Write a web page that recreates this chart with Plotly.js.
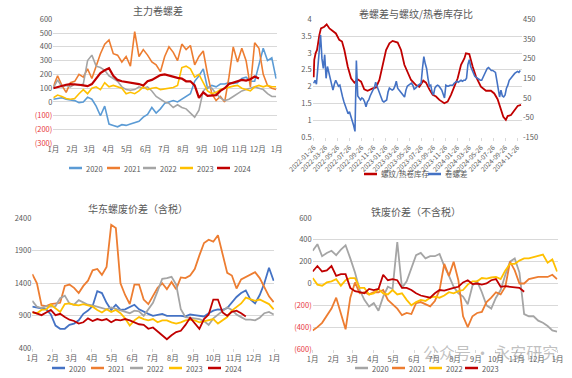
<!DOCTYPE html>
<html><head><meta charset="utf-8">
<script src="https://cdn.plot.ly/plotly-3.0.1.min.js"></script>
<style>html,body{margin:0;padding:0;background:#fff}#chart{width:572px;height:378px}</style>
</head><body><div id="chart"></div>
<script>
// ---------- shared month axis (seasonal charts) ----------
const MONTH_DAYS = [0,31,59,90,120,151,181,212,243,273,304,334,365];
const MONTH_LABELS = ['1月','2月','3月','4月','5月','6月','7月','8月','9月','10月','11月','12月','1月'];

// ---------- chart 1: 主力卷螺差 (weekly values) ----------
const c1_2020 = [20,25,30,20,15, 10,-5,0,35, 20,-30,-100,-30, -160,-170,-180,-165,-170, -160,-150,-140,-110, -90,-40,-80,-50, -10,0,10,0,20, 40,60,150,190, 240,100,120,110, 130,130,140,135,140, 170,180,150,150, 280,390,300,320,170];
const c1_2021 = [110,190,120,70,140, 150,200,180,240, 170,260,350,420, 450,350,340,290,330, 260,510,330,380, 340,290,270,220, 330,400,360,300,420, 380,410,270,330, 370,200,60,10, 40,0,180,400,290, 390,300,110,430, 390,200,120,100,90];
const c1_2022 = [100,160,110,120,110, 130,120,130,300, 340,260,250,230, 190,170,150,110,90, 85,90,110,100, 110,80,40,20, 0,-10,-40,-20,-40, -50,-80,-110,-60, 80,110,100,60, 30,10,20,40,60, 80,90,100,110, 100,90,60,40,40];
const c1_2023 = [30,50,40,25,20, 25,60,90,60, 100,110,90,140, 110,120,110,100,60, 70,60,80,110, 90,100,105,90, 95,100,105,120,250, 260,240,180,200, 140,80,60,70, 90,100,110,115,120, 100,90,80,110, 120,110,120,110,110];
const c1_2024 = [100,110,120,125,130, 130,125,120,115, 130,170,210,230, 245,190,160,150,145, 140,140,130,120, 150,160,175,195, 200,190,185,175,170, 150,150,120,30, 70,45,50,50, 80,100,130,140,150, 160,155,165,185,170];

// ---------- chart 2: 卷螺差与螺纹/热卷库存比 ----------
const c2_ratioDates = ['2022-01-26','2022-01-29','2022-02-05','2022-02-12','2022-02-24','2022-03-04','2022-03-21','2022-04-02','2022-04-16','2022-05-03','2022-05-19','2022-06-05','2022-06-19','2022-07-01','2022-07-18','2022-08-04','2022-08-21','2022-09-07','2022-09-24','2022-10-10','2022-10-27','2022-11-22','2022-12-09','2022-12-26','2023-01-12','2023-01-29','2023-02-15','2023-03-03','2023-03-29','2023-04-15','2023-05-02','2023-05-19','2023-06-05','2023-06-30','2023-07-17','2023-08-06','2023-08-20','2023-09-06','2023-09-23','2023-10-10','2023-10-27','2023-11-21','2023-12-08','2023-12-25','2024-01-11','2024-01-28','2024-02-14','2024-03-02','2024-03-10','2024-03-27','2024-04-13','2024-04-30','2024-05-25','2024-06-20','2024-07-15','2024-08-01','2024-08-18','2024-09-04','2024-09-16','2024-09-29','2024-10-08','2024-10-25','2024-11-11','2024-11-28','2024-12-15'];
const c2_ratio = [2.28,2.8,3.0,3.09,3.54,3.73,3.78,3.85,3.73,3.65,3.58,3.39,3.34,3.09,2.6,2.25,2.12,2.22,2.15,1.92,1.88,1.95,1.98,2.2,2.6,3.09,3.29,3.36,3.31,3.09,2.65,2.4,2.2,2.05,2.0,2.18,2.12,1.92,1.76,1.71,1.61,1.51,1.56,1.76,1.98,2.25,2.65,2.84,2.99,2.97,2.6,2.3,2.0,1.88,1.88,1.8,1.63,1.31,1.11,1.02,1.13,1.16,1.31,1.43,1.46];
const c2_spreadStart = '2022-01-26';
const c2_spread = [125,140,120,200,300,370,250,200,270,150,
  210,180,165,120,90,120,140,125,110,115,
  80,55,30,10,-10,-30,-20,-40,-70,-90,
  -120,240,60,50,40,50,45,30,5,30,
  40,60,80,90,100,130,110,90,75,60,
  35,30,35,40,80,100,95,90,95,110,
  135,100,90,80,75,60,55,90,110,115,
  120,125,115,95,100,110,115,120,125,200,
  260,225,200,150,110,115,80,65,100,110,
  115,110,100,90,70,50,115,110,110,115,
  115,115,125,130,135,130,135,140,135,140,
  140,150,220,245,210,190,170,160,155,150,
  145,140,140,155,175,185,200,205,195,190,
  190,185,180,140,90,55,90,60,55,65,
  100,115,140,150,160,170,175,180,185,180,
  190];
const c2_tickDates = ['2022-01-26','2022-03-26','2022-05-26','2022-07-26','2022-09-26','2022-11-26','2023-01-26','2023-03-26','2023-05-26','2023-07-26','2023-09-26','2023-11-26','2024-01-26','2024-03-26','2024-05-26','2024-07-26','2024-09-26','2024-11-26'];

// ---------- chart 3: 华东螺废价差（含税） ----------
const c3_2020 = [1040,1030,1010,1000,920, 750,700,700,760, 780,830,930,980, 1050,1280,1250,1100,990, 1070,990,1000,1030, 1070,1000,960,930, 900,920,930,900,900, 910,900,890,920, 910,900,890,940, 980,1000,990,1020,1100, 1190,1250,1290,1150, 1090,1220,1400,1640,1440];
const c3_2021 = [1540,1400,1060,1050,1080, 1090,1100,1360,1380, 1330,1250,1360,1440, 1600,1620,1530,1650,2300, 2250,1400,1220,1080, 1380,1380,1150,1080, 1210,1330,1400,1310,1420, 1310,1490,1480,1520, 1620,1830,2020,2070, 2040,2140,1850,1560,1520, 1320,1460,1500,1530, 1570,1480,1340,1200,1110];
const c3_2022 = [1130,1040,1020,1050,1040, 1050,1170,1210,1090, 1070,1140,1100,1070, 1060,1040,1020,1000,1030, 1010,990,960,940, 980,970,900,1000, 1100,1280,1470,1480,1500, 1380,1000,880,870, 860,850,820,760, 860,920,980,1030,990, 920,880,840,840, 830,870,940,960,920];
const c3_2023 = [950,940,990,1000,1070, 1020,960,1080,1090, 1070,1060,1080,1060, 1040,990,950,1000,960, 990,940,860,750, 830,880,850,830, 850,800,830,830,800, 780,800,830,840, 830,800,820,830, 850,780,830,880,980, 1030,1090,1180,1150, 1130,1150,1110,1080,1000];
const c3_2024 = [960,930,910,950,990, 910,930,880,840, 820,780,800,860, 820,850,830,850,800, 840,830,850,830, 800,770,760,700, 720,660,600,540,600, 650,670,760,870, 790,700,850,920, 1150,1150,950,900,960, 980,940,890];

// ---------- chart 4: 铁废价差（不含税） ----------
const c4_2020 = [300,360,250,280,300, 260,310,350,230, 100,-60,-150,-210, -180,-250,-120,-30,-50, 380,-40,20,150, 260,280,230,250, 250,270,160,70,-30, -90,-120,-190,-20, 20,-80,-200,-230, -130,-60,80,200,230, 100,-280,-300,-300, -340,-360,-390,-430,-440];
const c4_2021 = [-430,-400,-360,-290,-230, -130,-280,-420,-130, 10,-90,-80,-100, -80,-80,-60,-150,-190, -230,-290,-270,-280, -180,-170,-190,-210, -160,-60,180,70,200, 30,-300,-400,-300, -270,-260,-170,-130, -80,-100,-30,200,120, 0,0,40,50, 60,60,60,80,40];
const c4_2022 = [50,-10,-20,10,20, 40,-20,30,50, 50,-40,-40,-100, -90,-50,-90,-100,-60, -100,-90,-150,-200, -170,-150,-160,-130, -120,-130,-110,-80,-90, -70,-60,-10,20, 20,50,45,55, 60,40,120,180,180, 210,230,230,240, 250,265,190,220,110];
const c4_2023 = [110,160,110,120,160, 70,85,85,-40, -70,-80,-90,-50, -60,-50,80,30,40, 30,-40,-40,-60, -90,-110,-120,-130, -90,-60,-65,-50,-40, -30,10,30,-5, 0,-10,0,30, 40,-30,-25,-30,-40, -40,-75];

// ---------- helpers ----------
const W = 572, H = 378;
const px = v => v / W;
const py = v => 1 - v / H;
const weekX = arr => arr.map((_, i) => i * 7);
const NEG = '#e8383d';
const negLabel = v => v < 0 ? `<span style="color:${NEG}">(${-v})</span>` : String(v);
const range = (a, b, s) => { const r = []; for (let v = a; v <= b + 1e-9; v += s) r.push(+v.toFixed(2)); return r; };
const FONT = 'Noto Sans CJK SC, Noto Sans, sans-serif';
const TICKF = {family: FONT, size: 7.5, color: '#595959'};
const GRID = '#d9d9d9';

const colors = {blue1:'#5b9bd5', blue:'#4472c4', orange:'#ed7d31', gray:'#a5a5a5', yellow:'#ffc000', red:'#c00000'};

function line(x, y, name, color, xa, ya, width) {
  return {type:'scatter', mode:'lines', x, y, name, xaxis:xa, yaxis:ya, showlegend:false,
    line:{color, width: width || 1.6}, hoverinfo:'skip'};
}

const traces = [
  line(weekX(c1_2020), c1_2020, '2020', colors.blue1, 'x', 'y'),
  line(weekX(c1_2021), c1_2021, '2021', colors.orange, 'x', 'y'),
  line(weekX(c1_2022), c1_2022, '2022', colors.gray, 'x', 'y'),
  line(weekX(c1_2023), c1_2023, '2023', colors.yellow, 'x', 'y'),
  line(weekX(c1_2024), c1_2024, '2024', colors.red, 'x', 'y', 2.2),

  line(c2_ratioDates, c2_ratio, '螺纹/热卷库存', colors.red, 'x2', 'y2', 1.8),
  line(c2_spread.map((_, i) => { const d = new Date(c2_spreadStart + 'T00:00:00Z'); d.setUTCDate(d.getUTCDate() + 7 * i); return d.toISOString().slice(0, 10); }),
       c2_spread, '卷螺差', colors.blue, 'x2', 'y3', 1.6),

  line(weekX(c3_2020), c3_2020, '2020', colors.blue, 'x3', 'y4', 1.8),
  line(weekX(c3_2021), c3_2021, '2021', colors.orange, 'x3', 'y4', 1.8),
  line(weekX(c3_2022), c3_2022, '2022', colors.gray, 'x3', 'y4', 1.8),
  line(weekX(c3_2023), c3_2023, '2023', colors.yellow, 'x3', 'y4', 1.8),
  line(weekX(c3_2024), c3_2024, '2024', colors.red, 'x3', 'y4', 1.8),

  line(weekX(c4_2020), c4_2020, '2020', colors.gray, 'x4', 'y5', 1.8),
  line(weekX(c4_2021), c4_2021, '2021', colors.orange, 'x4', 'y5', 1.8),
  line(weekX(c4_2022), c4_2022, '2022', colors.yellow, 'x4', 'y5', 1.8),
  line(weekX(c4_2023), c4_2023, '2023', colors.red, 'x4', 'y5', 1.8),
];

const monthAxis = (domain, anchor, ticks) => ({
  domain, anchor, range:[0,365], tickmode:'array', tickvals:MONTH_DAYS, ticktext:MONTH_LABELS,
  tickangle:0, showgrid:false, zeroline:false, showline:false, tickfont:TICKF,
  ticks: ticks ? 'outside' : '', ticklen:3, tickcolor:GRID, fixedrange:true
});
const valAxis = (domain, anchor, lo, hi, step, neg) => {
  const tv = range(lo, hi, step);
  return {domain, anchor, range:[lo, hi], tickmode:'array', tickvals:tv,
    ticktext: tv.map(v => neg ? negLabel(v) : String(v)),
    showgrid:true, gridcolor:GRID, gridwidth:1, zeroline:false, showline:false,
    tickfont:TICKF, ticks:'', fixedrange:true};
};
const title = (text, x, y) => ({text, x:px(x), y:py(y), xref:'paper', yref:'paper', showarrow:false,
  xanchor:'center', yanchor:'middle', font:{family:FONT, size:10, color:'#595959'}});

// ---------- hand-placed legends (Excel style: short line + label) ----------
const legends = [
  {y:168, items:[[69,'2020',colors.blue1],[107,'2021',colors.orange],[143,'2022',colors.gray],[180,'2023',colors.yellow],[217,'2024',colors.red]]},
  {y:174, items:[[364,'螺纹/热卷库存',colors.red],[428,'卷螺差',colors.blue]]},
  {y:368, items:[[52,'2020',colors.blue],[91,'2021',colors.orange],[130,'2022',colors.gray],[169,'2023',colors.yellow],[208,'2024',colors.red]]},
  {y:368, items:[[355,'2020',colors.gray],[392,'2021',colors.orange],[429,'2022',colors.yellow],[465,'2023',colors.red]]},
];
const shapes = [], legendTexts = [];
legends.forEach(g => g.items.forEach(([x0, label, col]) => {
  shapes.push({type:'line', xref:'paper', yref:'paper', x0:px(x0), x1:px(x0 + 13), y0:py(g.y), y1:py(g.y),
    line:{color:col, width:2.5}});
  legendTexts.push({text:label, x:px(x0 + 15), y:py(g.y), xref:'paper', yref:'paper', showarrow:false,
    xanchor:'left', yanchor:'middle', font:{family:FONT, size:7.5, color:'#595959'}});
}));

const layout = {
  width:W, height:H, margin:{l:0, r:0, t:0, b:0},
  paper_bgcolor:'#fff', plot_bgcolor:'rgba(0,0,0,0)',
  font:{family:FONT},
  showlegend:false,
  xaxis: monthAxis([px(53.3), px(276.7)], 'y', false),
  yaxis: valAxis([py(143.3), py(19.3)], 'x', -300, 600, 100, true),

  xaxis2: {domain:[px(312.7), px(522)], anchor:'y2', type:'date', range:['2022-01-21','2024-12-20'],
    tickmode:'array', tickvals:c2_tickDates, ticktext:c2_tickDates, tickangle:-45,
    tickfont:{family:FONT, size:6.6, color:'#595959'}, showgrid:false, zeroline:false,
    ticks:'outside', ticklen:3, tickcolor:GRID, showline:false, fixedrange:true},
  yaxis2: Object.assign(valAxis([py(137.3), py(19.3)], 'x2', 0.5, 4, 0.5, false),
    {ticktext:['0.5','1','1.5','2','2.5','3','3.5','4']}),
  yaxis3: {overlaying:'y2', side:'right', anchor:'x2', range:[-150,450], tickmode:'array',
    tickvals:range(-150,450,100), ticktext:range(-150,450,100).map(String),
    showgrid:false, zeroline:false, showline:false, tickfont:TICKF, fixedrange:true},

  xaxis3: monthAxis([px(32.3), px(274.3)], 'y4', true),
  yaxis4: valAxis([py(348.3), py(218.3)], 'x3', 400, 2400, 500, false),

  xaxis4: monthAxis([px(312.7), px(557.7)], 'y5', true),
  yaxis5: valAxis([py(349), py(218)], 'x4', -600, 600, 200, true),

  shapes,
  annotations: [
    title('主力卷螺差', 158, 10),
    title('卷螺差与螺纹/热卷库存比', 416, 13),
    title('华东螺废价差（含税）', 138, 208),
    title('铁废价差（不含税）', 416, 211),
    ...legendTexts,
    {text:'公众号 · 永安研究', x:px(490), y:py(352), xref:'paper', yref:'paper', showarrow:false,
     xanchor:'center', yanchor:'middle', font:{family:FONT, size:16, color:'rgba(130,130,130,0.5)'}}
  ]
};

Plotly.newPlot('chart', traces, layout, {displayModeBar:false, staticPlot:true});
</script></body></html>
